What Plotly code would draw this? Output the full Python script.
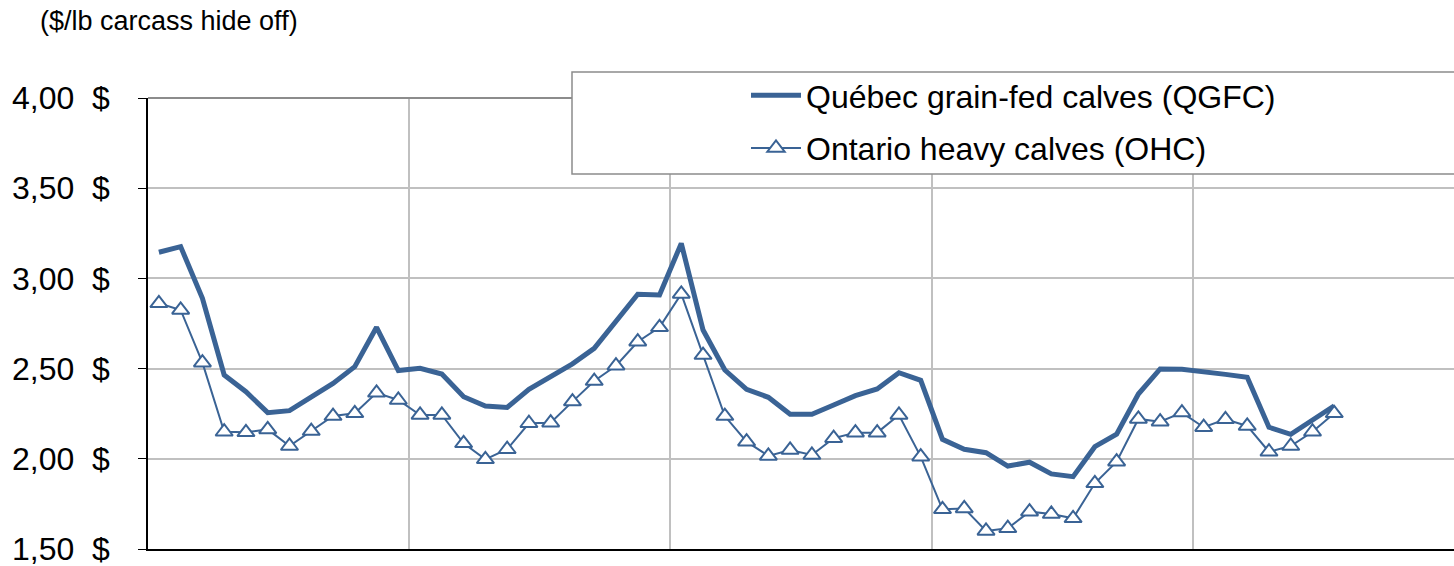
import plotly.graph_objects as go

# ---- data ----
years = ["Y1", "Y2", "Y3", "Y4", "Y5"]
months = ["01", "02", "03", "04", "05", "06", "07", "08", "09", "10", "11", "12"]
periods = [f"{y}-{m}" for y in years for m in months]

qgfc = [3.145, 3.176, 2.89, 2.465, 2.372, 2.256, 2.267, 2.344, 2.418, 2.511, 2.729, 2.489,
        2.502, 2.47, 2.344, 2.293, 2.285, 2.385, 2.452, 2.526, 2.612, 2.766, 2.912, 2.908,
        3.194, 2.714, 2.492, 2.385, 2.341, 2.247, 2.247, 2.298, 2.35, 2.387, 2.477, 2.435,
        2.108, 2.053, 2.034, 1.96, 1.981, 1.916, 1.901, 2.067, 2.137, 2.359, 2.498, 2.496,
        2.479, 2.468, 2.452, 2.175, 2.136, None, 2.294]

ohc = [2.862, 2.825, 2.533, 2.15, 2.147, 2.163, 2.071, 2.154, 2.237, 2.252, 2.366, 2.326,
       2.243, 2.243, 2.086, 1.997, 2.053, 2.197, 2.2, 2.317, 2.431, 2.516, 2.649, 2.729,
       2.914, 2.575, 2.237, 2.095, 2.016, 2.049, 2.021, 2.114, 2.145, 2.145, 2.243, 2.012,
       1.72, 1.725, 1.6, 1.615, 1.707, 1.694, 1.67, 1.864, 1.984, 2.221, 2.206, 2.256,
       2.175, 2.219, 2.182, 2.039, 2.071, 2.15, 2.252]

ytick_vals = [1.5, 2.0, 2.5, 3.0, 3.5, 4.0]
ytick_text = ["1,50\u00a0 $", "2,00\u00a0 $", "2,50\u00a0 $", "3,00\u00a0 $", "3,50\u00a0 $", "4,00\u00a0 $"]

name_q = "Québec grain-fed calves (QGFC)"
name_o = "Ontario heavy calves (OHC)"
title_text = "($/lb carcass hide off)"

BLUE = "#3A6395"
GRID = "#C0C0C0"
FONT = "Liberation Sans, Arial, sans-serif"

W, H = 1454, 566
L, R, T, B = 148, 0, 98, 17
pw, ph = W - L - R, H - T - B

def px_x(x):
    return (x - L) / pw

def px_y(y):
    return (H - B - y) / ph

fig = go.Figure()
fig.add_trace(go.Scatter(
    x=periods[:len(qgfc)], y=qgfc, name=name_q, mode="lines", legendgroup="q",
    line=dict(color=BLUE, width=5), connectgaps=True,
))
fig.add_trace(go.Scatter(
    x=periods[:len(ohc)], y=ohc, name=name_o, mode="lines+markers", legendgroup="o",
    line=dict(color=BLUE, width=2),
    marker=dict(symbol="triangle-up", size=15, color="white", line=dict(color=BLUE, width=2)),
))

fig.update_layout(
    width=W, height=H,
    margin=dict(l=L, r=R, t=T, b=B),
    plot_bgcolor="white", paper_bgcolor="white",
    font=dict(family=FONT, color="black"),
    title=dict(text=title_text, font=dict(size=27, family=FONT, color="black"),
               xref="container", yref="container", x=40 / W, xanchor="left",
               y=1 - 21 / H, yanchor="middle"),
    showlegend=True,
    legend=dict(x=px_x(746), xanchor="left", y=px_y(68), yanchor="top",
                bgcolor="rgba(0,0,0,0)", borderwidth=0,
                font=dict(size=32, family=FONT, color="black"),
                itemwidth=50, tracegroupgap=8, traceorder="grouped"),
    xaxis=dict(type="category", categoryorder="array", categoryarray=periods,
               range=[-0.5, len(periods) - 0.5],
               tickmode="array", tickvals=[11.5, 23.5, 35.5, 47.5], showticklabels=False,
               ticks="", showgrid=True, gridcolor=GRID, gridwidth=2,
               showline=True, linecolor="black", linewidth=2, zeroline=False),
    yaxis=dict(range=[1.5, 4.0], tickmode="array", tickvals=ytick_vals, ticktext=ytick_text,
               tickfont=dict(size=32, family=FONT, color="black"),
               ticks="outside", ticklen=8, tickcolor="black", tickwidth=1,
               ticklabelstandoff=22, ticklabeloverflow="allow",
               showgrid=True, gridcolor=GRID, gridwidth=2,
               showline=True, linecolor="black", linewidth=1.5, zeroline=False),
)

# top border line of plot area
fig.add_shape(type="line", xref="paper", yref="paper", x0=0, x1=1, y0=1, y1=1,
              line=dict(color="#8C8C8C", width=2), layer="above")
# legend box
fig.add_shape(type="rect", xref="paper", yref="paper",
              x0=px_x(572), x1=px_x(1470), y0=px_y(174), y1=px_y(72),
              fillcolor="white", line=dict(color="#8C8C8C", width=1.5), layer="above")

fig.write_html("out.html", config={"displayModeBar": False},
               post_script="document.body.style.margin='0';")
